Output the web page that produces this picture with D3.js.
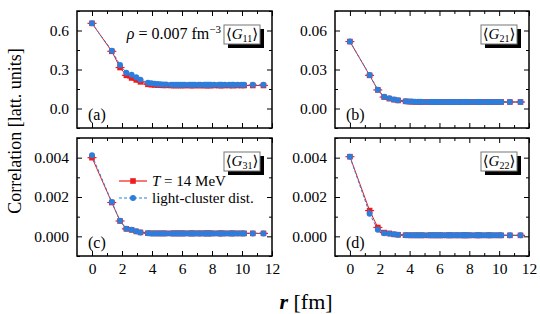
<!DOCTYPE html>
<html>
<head>
<meta charset="utf-8">
<script src="https://cdn.jsdelivr.net/npm/d3@7"></script>
<style>
  body { margin: 0; background: #fff; }
  svg { display: block; }
  text { font-family: "Liberation Serif", "DejaVu Serif", serif; fill: #000; }
</style>
</head>
<body>
<svg id="chart" width="540" height="314"></svg>
<script>
// Data
// lattice distances r [fm]
var rValues = [0, 1.32, 1.87, 2.29, 2.64, 2.95, 3.23, 3.73, 3.96, 4.17, 4.38, 4.57, 4.76, 4.94,
  5.28, 5.44, 5.60, 5.75, 5.90, 6.05, 6.19, 6.47, 6.60, 6.73, 6.86, 7.11, 7.23, 7.47, 7.58,
  7.70, 7.81, 7.92, 8.14, 8.45, 8.55, 8.66, 8.85, 9.14, 9.33, 9.43, 9.70, 9.97, 10.14, 10.72, 11.43]

// <G11>
var g11Temp = [0.655, 0.44, 0.315, 0.255, 0.235, 0.22, 0.205, 0.186, 0.183, 0.181, 0.180, 0.179, 0.178, 0.178,
  0.177, 0.177, 0.177, 0.177, 0.177, 0.177, 0.177, 0.177, 0.177, 0.177, 0.177, 0.177, 0.177, 0.177, 0.177,
  0.177, 0.177, 0.177, 0.177, 0.177, 0.177, 0.177, 0.177, 0.177, 0.177, 0.177, 0.177, 0.177, 0.177, 0.177, 0.177]
var g11Cluster = [0.655, 0.445, 0.335, 0.275, 0.26, 0.24, 0.222, 0.198, 0.194, 0.190, 0.188, 0.186, 0.185, 0.184,
  0.183, 0.183, 0.182, 0.182, 0.182, 0.182, 0.182, 0.182, 0.182, 0.182, 0.182, 0.182, 0.182, 0.182, 0.182,
  0.182, 0.182, 0.182, 0.182, 0.182, 0.182, 0.182, 0.182, 0.182, 0.182, 0.182, 0.182, 0.182, 0.182, 0.182, 0.182]

// <G21>
var g21Temp = [0.0515, 0.0255, 0.0143, 0.0088, 0.0076, 0.0068, 0.0062, 0.0055, 0.0053, 0.0052, 0.0051, 0.0051, 0.0050, 0.0050,
  0.0050, 0.0050, 0.0050, 0.0050, 0.0050, 0.0050, 0.0050, 0.0050, 0.0050, 0.0050, 0.0050, 0.0050, 0.0050, 0.0050, 0.0050,
  0.0050, 0.0050, 0.0050, 0.0050, 0.0050, 0.0050, 0.0050, 0.0050, 0.0050, 0.0050, 0.0050, 0.0050, 0.0050, 0.0050, 0.0050, 0.0050]
var g21Cluster = [0.0515, 0.0257, 0.0145, 0.0090, 0.0078, 0.0070, 0.0063, 0.0056, 0.0054, 0.0053, 0.0052, 0.0051, 0.0051, 0.0050,
  0.0050, 0.0050, 0.0050, 0.0050, 0.0050, 0.0050, 0.0050, 0.0050, 0.0050, 0.0050, 0.0050, 0.0050, 0.0050, 0.0050, 0.0050,
  0.0050, 0.0050, 0.0050, 0.0050, 0.0050, 0.0050, 0.0050, 0.0050, 0.0050, 0.0050, 0.0050, 0.0050, 0.0050, 0.0050, 0.0050, 0.0050]

// <G31>
var g31Temp = [0.0040, 0.00172, 0.00078, 0.00038, 0.00033, 0.00025, 0.00020, 0.00016, 0.00015, 0.00015, 0.00015, 0.00015, 0.00015, 0.00015,
  0.00015, 0.00015, 0.00015, 0.00015, 0.00015, 0.00015, 0.00015, 0.00015, 0.00015, 0.00015, 0.00015, 0.00015, 0.00015, 0.00015, 0.00015,
  0.00015, 0.00015, 0.00015, 0.00015, 0.00015, 0.00015, 0.00015, 0.00015, 0.00015, 0.00015, 0.00015, 0.00015, 0.00015, 0.00015, 0.00015, 0.00015]
var g31Cluster = [0.00412, 0.00174, 0.00079, 0.00039, 0.00034, 0.00026, 0.00020, 0.00016, 0.00015, 0.00015, 0.00015, 0.00015, 0.00015, 0.00015,
  0.00015, 0.00015, 0.00015, 0.00015, 0.00015, 0.00015, 0.00015, 0.00015, 0.00015, 0.00015, 0.00015, 0.00015, 0.00015, 0.00015, 0.00015,
  0.00015, 0.00015, 0.00015, 0.00015, 0.00015, 0.00015, 0.00015, 0.00015, 0.00015, 0.00015, 0.00015, 0.00015, 0.00015, 0.00015, 0.00015, 0.00015]

// <G22>
var g22Temp = [0.00405, 0.00131, 0.00045, 0.00019, 0.00015, 0.00010, 0.00008, 0.00006, 0.00005, 0.00005, 0.00005, 0.00005, 0.00005, 0.00005,
  0.00005, 0.00005, 0.00005, 0.00005, 0.00005, 0.00005, 0.00005, 0.00005, 0.00005, 0.00005, 0.00005, 0.00005, 0.00005, 0.00005, 0.00005,
  0.00005, 0.00005, 0.00005, 0.00005, 0.00005, 0.00005, 0.00005, 0.00005, 0.00005, 0.00005, 0.00005, 0.00005, 0.00005, 0.00005, 0.00005, 0.00005]
var g22Cluster = [0.00405, 0.00115, 0.00033, 0.00016, 0.00013, 0.00010, 0.00008, 0.00006, 0.00005, 0.00005, 0.00005, 0.00005, 0.00005, 0.00005,
  0.00005, 0.00005, 0.00005, 0.00005, 0.00005, 0.00005, 0.00005, 0.00005, 0.00005, 0.00005, 0.00005, 0.00005, 0.00005, 0.00005, 0.00005,
  0.00005, 0.00005, 0.00005, 0.00005, 0.00005, 0.00005, 0.00005, 0.00005, 0.00005, 0.00005, 0.00005, 0.00005, 0.00005, 0.00005, 0.00005, 0.00005]

var xTicks = [0, 2, 4, 6, 8, 10, 12]
var xMinor = [1, 3, 5, 7, 9, 11]
var seriesNames = ["T = 14 MeV", "light-cluster dist."]

var red = "#f21b1b"
var blue = "#2f7ddb"
var tickFont = "15.5px"

var svg = d3.select("#chart")

var cols = [[77, 272], [335, 529]]
var rows = [[11, 128], [138, 256]]

var panels = [
  {tag: "(a)", sub: "11", col: 0, row: 0, yDom: [-0.15, 0.75], yTicks: [0, 0.3, 0.6], yMinor: [-0.15, 0.15, 0.45, 0.75], fmt: ".1f", temp: g11Temp, clus: g11Cluster},
  {tag: "(b)", sub: "21", col: 1, row: 0, yDom: [-0.015, 0.075], yTicks: [0, 0.03, 0.06], yMinor: [-0.015, 0.015, 0.045, 0.075], fmt: ".2f", temp: g21Temp, clus: g21Cluster},
  {tag: "(c)", sub: "31", col: 0, row: 1, yDom: [-0.001, 0.005], yTicks: [0, 0.002, 0.004], yMinor: [-0.001, 0.001, 0.003, 0.005], fmt: ".3f", temp: g31Temp, clus: g31Cluster},
  {tag: "(d)", sub: "22", col: 1, row: 1, yDom: [-0.001, 0.005], yTicks: [0, 0.002, 0.004], yMinor: [-0.001, 0.001, 0.003, 0.005], fmt: ".3f", temp: g22Temp, clus: g22Cluster}
]

panels.forEach(function(p) {
  var x0 = cols[p.col][0], x1 = cols[p.col][1]
  var y0 = rows[p.row][0], y1 = rows[p.row][1]
  var x = d3.scaleLinear().domain([-1, 12]).range([x0, x1])
  var y = d3.scaleLinear().domain(p.yDom).range([y1, y0])
  var g = svg.append("g")

  // axes: ticks pointing inward on all four sides
  function addAxis(axis, tx, ty) {
    var a = g.append("g").attr("transform", "translate(" + tx + "," + ty + ")").call(axis)
    a.select(".domain").remove()
    a.selectAll("line").attr("stroke", "#000").attr("stroke-width", 1)
    a.selectAll("text").style("font-family", "Liberation Serif, serif").style("font-size", tickFont).attr("fill", "#000")
    return a
  }
  addAxis(d3.axisBottom(x).tickValues(xTicks).tickSize(-5).tickPadding(7)
    .tickFormat(p.row == 1 ? d3.format("d") : ""), 0, y1)
  addAxis(d3.axisBottom(x).tickValues(xMinor).tickSize(-3).tickFormat(""), 0, y1)
  addAxis(d3.axisTop(x).tickValues(xTicks).tickSize(-5).tickFormat(""), 0, y0)
  addAxis(d3.axisTop(x).tickValues(xMinor).tickSize(-3).tickFormat(""), 0, y0)
  addAxis(d3.axisLeft(y).tickValues(p.yTicks).tickSize(-5).tickPadding(8).tickFormat(d3.format(p.fmt)), x0, 0)
  addAxis(d3.axisLeft(y).tickValues(p.yMinor).tickSize(-3).tickFormat(""), x0, 0)
  addAxis(d3.axisRight(y).tickValues(p.yTicks).tickSize(-5).tickFormat(""), x1, 0)
  addAxis(d3.axisRight(y).tickValues(p.yMinor).tickSize(-3).tickFormat(""), x1, 0)

  // frame
  g.append("rect").attr("x", x0).attr("y", y0).attr("width", x1 - x0).attr("height", y1 - y0)
    .attr("fill", "none").attr("stroke", "#000").attr("stroke-width", 1.5)

  var line = d3.line().x((d, i) => x(rValues[i])).y(d => y(d))

  // T = 14 MeV (red, squares with small horizontal bars)
  g.append("path").datum(p.temp).attr("d", line).attr("fill", "none").attr("stroke", red).attr("stroke-width", 1)
  g.selectAll(".eb").data(p.temp).enter().append("line")
    .attr("x1", (d, i) => x(rValues[i]) - 4.5).attr("x2", (d, i) => x(rValues[i]) + 4.5)
    .attr("y1", d => y(d)).attr("y2", d => y(d))
    .attr("stroke", red).attr("stroke-width", 1.2)
  g.selectAll(".sq").data(p.temp).enter().append("rect")
    .attr("x", (d, i) => x(rValues[i]) - 2.8).attr("y", d => y(d) - 2.8)
    .attr("width", 5.6).attr("height", 5.6).attr("fill", red)

  // light-cluster distribution (blue dashed, dots)
  g.append("path").datum(p.clus).attr("d", line).attr("fill", "none").attr("stroke", blue)
    .attr("stroke-width", 1).attr("stroke-dasharray", "3,2")
  g.selectAll(".dot").data(p.clus).enter().append("circle")
    .attr("cx", (d, i) => x(rValues[i])).attr("cy", d => y(d)).attr("r", 3).attr("fill", blue)

  // panel tag
  g.append("text").attr("x", x0 + 11).attr("y", y1 - 8).style("font-size", "16px").text(p.tag)

  // <G_ij> box with shadow
  var bw = 36, bh = 19, bx = x1 - 12 - bw, by = y0 + 14
  g.append("rect").attr("x", bx + 4).attr("y", by + 4).attr("width", bw).attr("height", bh).attr("fill", "#000")
  g.append("rect").attr("x", bx).attr("y", by).attr("width", bw).attr("height", bh)
    .attr("fill", "#fff").attr("stroke", "#777").attr("stroke-width", 1)
  var t = g.append("text").attr("x", bx + bw / 2).attr("y", by + 14).attr("text-anchor", "middle").style("font-size", "15px")
  t.append("tspan").text("\u27E8")
  t.append("tspan").style("font-style", "italic").text("G")
  t.append("tspan").attr("dy", 3).style("font-size", "10px").text(p.sub)
  t.append("tspan").attr("dy", -3).text("\u27E9")

  if (p.tag == "(a)") {
    var rho = g.append("text").attr("x", bx - 3).attr("y", by + 14).attr("text-anchor", "end").style("font-size", "16px")
    rho.append("tspan").style("font-style", "italic").text("\u03C1")
    rho.append("tspan").text(" = 0.007 fm")
    rho.append("tspan").attr("dy", -6).style("font-size", "11px").text("\u22123")
  }

  if (p.tag == "(c)") {
    var lx0 = x0 + 42, lx1 = x0 + 70
    var rowsY = [y0 + 43, y0 + 60]
    g.append("line").attr("x1", lx0).attr("x2", lx1).attr("y1", rowsY[0]).attr("y2", rowsY[0]).attr("stroke", red).attr("stroke-width", 1.2)
    g.append("rect").attr("x", (lx0 + lx1) / 2 - 2.8).attr("y", rowsY[0] - 2.8).attr("width", 5.6).attr("height", 5.6).attr("fill", red)
    g.append("line").attr("x1", lx0).attr("x2", lx1).attr("y1", rowsY[1]).attr("y2", rowsY[1]).attr("stroke", blue)
      .attr("stroke-width", 1.2).attr("stroke-dasharray", "3,2")
    g.append("circle").attr("cx", (lx0 + lx1) / 2).attr("cy", rowsY[1]).attr("r", 3).attr("fill", blue)

    var l1 = g.append("text").attr("x", lx1 + 5).attr("y", rowsY[0] + 5).style("font-size", "15px")
    l1.append("tspan").style("font-style", "italic").text("T")
    l1.append("tspan").text(" = 14 MeV")
    g.append("text").attr("x", lx1 + 5).attr("y", rowsY[1] + 5).style("font-size", "15px").text(seriesNames[1])
  }
})

// axis titles
svg.append("text").attr("transform", "translate(21,131) rotate(-90)").attr("text-anchor", "middle")
  .style("font-size", "18px").text("Correlation [latt. units]")

var xt = svg.append("text").attr("x", 306).attr("y", 309).attr("text-anchor", "middle").style("font-size", "22px")
xt.append("tspan").style("font-style", "italic").style("font-weight", "bold").text("r")
xt.append("tspan").text(" [fm]")
</script>
</body>
</html>
